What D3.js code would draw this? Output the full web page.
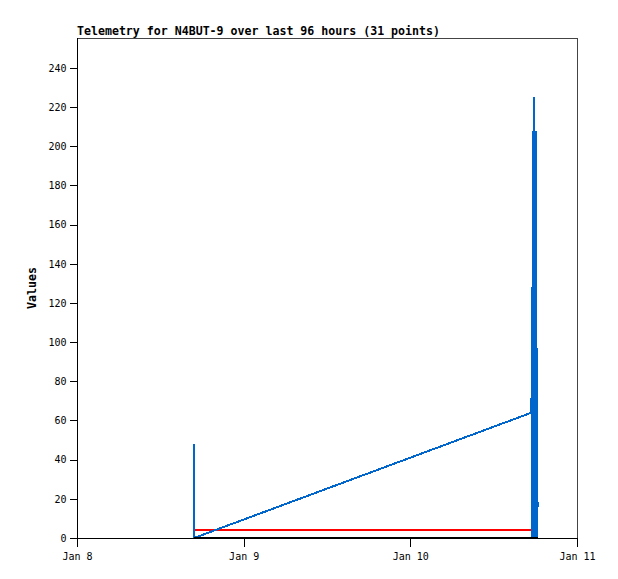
<!DOCTYPE html>
<html>
<head>
<meta charset="utf-8">
<script src="https://cdn.jsdelivr.net/npm/d3@7"></script>
<style>
  body { margin: 0; background: #fff; }
  svg { display: block; }
  .tick text { font-family: "DejaVu Sans Mono", monospace; font-size: 10px; fill: #000; }
</style>
</head>
<body>
<svg width="618" height="579"></svg>
<script>
(function (d3) {
  'use strict';

  // telemetry timestamps (UTC) and values
  const pointTimes = [
    '2024-01-08T16:50', '2024-01-08T16:51',
    '2024-01-10T17:27', '2024-01-10T17:28', '2024-01-10T17:30', '2024-01-10T17:32',
    '2024-01-10T17:34', '2024-01-10T17:36', '2024-01-10T17:38', '2024-01-10T17:40',
    '2024-01-10T17:42', '2024-01-10T17:44', '2024-01-10T17:47', '2024-01-10T17:49',
    '2024-01-10T17:51', '2024-01-10T17:53', '2024-01-10T17:55', '2024-01-10T17:57',
    '2024-01-10T17:59', '2024-01-10T18:01', '2024-01-10T18:03', '2024-01-10T18:05',
    '2024-01-10T18:07', '2024-01-10T18:09', '2024-01-10T18:11', '2024-01-10T18:12',
    '2024-01-10T18:14', '2024-01-10T18:15', '2024-01-10T18:17', '2024-01-10T18:18',
    '2024-01-10T18:20'
  ];
  const blueValues = [
    48, 0,
    64, 128, 0, 100, 2, 128, 0, 208,
    3, 10, 225, 0, 208, 5, 200, 0,
    208, 2, 180, 0, 208, 4, 96, 0,
    97, 30, 90, 20, 16
  ];
  const redValues = pointTimes.map(() => 4);
  const blackValues = pointTimes.map(() => 0);
  const yTicks = [0, 20, 40, 60, 80, 100, 120, 140, 160, 180, 200, 220, 240];

  const title = 'Telemetry for N4BUT-9 over last 96 hours (31 points)';

  const svg = d3.select('svg');
  const left = 77, right = 577, top = 38, bottom = 538;

  const parse = d3.utcParse('%Y-%m-%dT%H:%M');
  const times = pointTimes.map(parse);

  const x = d3.scaleUtc()
    .domain([new Date(Date.UTC(2024, 0, 8)), new Date(Date.UTC(2024, 0, 11))])
    .range([left, right]);
  const y = d3.scaleLinear().domain([0, 255.3]).range([bottom, top]);

  // frame
  svg.append('rect')
    .attr('x', left + 0.5).attr('y', top + 0.5)
    .attr('width', right - left).attr('height', bottom - top)
    .attr('fill', 'none').attr('stroke', '#444')
    .attr('shape-rendering', 'crispEdges');

  const line = d3.line()
    .x(d => x(d[0]))
    .y(d => y(d[1]));

  const series = [
    { values: redValues, color: '#ff0000' },
    { values: blueValues, color: '#0066cc' },
    { values: blackValues, color: '#000000' }
  ];

  series.forEach(s => {
    svg.append('path')
      .datum(times.map((t, i) => [t, s.values[i]]))
      .attr('d', line)
      .attr('fill', 'none')
      .attr('stroke', s.color)
      .attr('stroke-width', 2)
      .attr('stroke-linejoin', 'bevel')
      .attr('shape-rendering', 'crispEdges');
  });

  // axes
  const yAxis = d3.axisLeft(y)
    .tickValues(yTicks)
    .tickSize(8)
    .tickPadding(3)
    .tickFormat(d3.format('d'));
  const gy = svg.append('g')
    .attr('transform', `translate(${left + 0.5},0)`)
    .call(yAxis);
  gy.select('.domain').remove();
  gy.selectAll('line').attr('shape-rendering', 'crispEdges');

  const xAxis = d3.axisBottom(x)
    .ticks(d3.utcDay.every(1))
    .tickSize(8)
    .tickPadding(6)
    .tickFormat(d3.utcFormat('%b %-d'));
  const gx = svg.append('g')
    .attr('transform', `translate(0,${bottom + 0.5})`)
    .call(xAxis);
  gx.select('.domain').remove();
  gx.selectAll('line').attr('shape-rendering', 'crispEdges');

  svg.append('line')
    .attr('x1', left + 0.5).attr('x2', left + 0.5)
    .attr('y1', top).attr('y2', bottom + 1)
    .attr('stroke', '#000').attr('shape-rendering', 'crispEdges');
  svg.append('line')
    .attr('x1', left - 5).attr('x2', right + 1)
    .attr('y1', bottom + 0.5).attr('y2', bottom + 0.5)
    .attr('stroke', '#000').attr('shape-rendering', 'crispEdges');

  svg.append('text')
    .attr('x', left)
    .attr('y', 35)
    .attr('font-family', '"DejaVu Sans Mono", monospace')
    .attr('font-weight', 'bold')
    .attr('font-size', '11.6px')
    .text(title);

  svg.append('text')
    .attr('transform', `translate(36,${(top + bottom) / 2}) rotate(-90)`)
    .attr('text-anchor', 'middle')
    .attr('font-family', '"DejaVu Sans Mono", monospace')
    .attr('font-weight', 'bold')
    .attr('font-size', '11.6px')
    .text('Values');

}(d3));
</script>
</body>
</html>
